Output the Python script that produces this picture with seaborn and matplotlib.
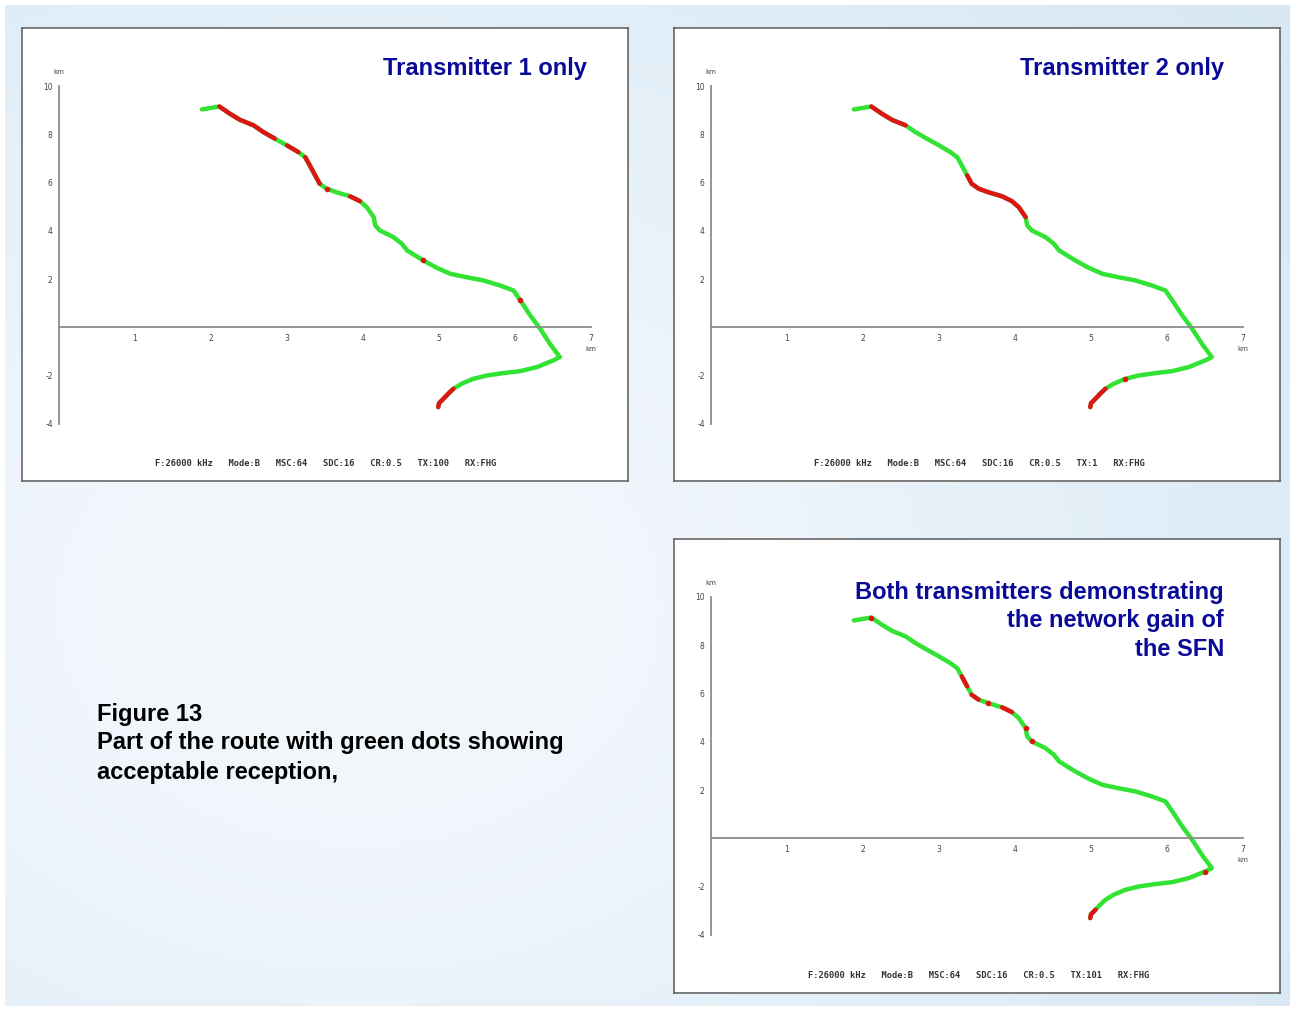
import numpy as np
import matplotlib.pyplot as plt
import seaborn as sns

W, H = 1290, 1009

# drive-test route, km east / north of the reference point
route_x = [1.88, 2.11, 2.25, 2.38, 2.56, 2.69, 2.84, 3.00, 3.15, 3.24,
           3.30, 3.37, 3.43, 3.52, 3.65, 3.83, 3.96, 4.05, 4.14, 4.16,
           4.22, 4.40, 4.51, 4.58, 4.79, 4.97, 5.15, 5.36, 5.58, 5.80,
           5.98, 6.07, 6.20, 6.33, 6.46, 6.59, 6.50, 6.29, 6.07, 5.85,
           5.63, 5.45, 5.30, 5.19, 5.12, 5.06, 5.00, 4.99]
route_y = [9.03, 9.15, 8.85, 8.60, 8.37, 8.09, 7.82, 7.54, 7.26, 7.05,
           6.71, 6.30, 5.95, 5.75, 5.60, 5.43, 5.23, 4.98, 4.57, 4.23,
           4.02, 3.74, 3.47, 3.19, 2.78, 2.47, 2.22, 2.08, 1.95, 1.74,
           1.53, 1.12, 0.50, -0.05, -0.68, -1.23, -1.37, -1.64, -1.81, -1.89,
           -1.99, -2.13, -2.33, -2.54, -2.75, -2.95, -3.14, -3.30]

# stretches of the route (point index ranges) with failed reception
tx1_bad = [(1, 6), (7, 8), (9, 12), (13, 13), (15, 16), (24, 24), (31, 31), (43, 47)]
tx2_bad = [(1, 4), (11, 18), (41, 41), (43, 47)]
both_bad = [(1, 1), (10, 11), (12, 13), (14, 14), (15, 16), (18, 18), (20, 20),
            (36, 36), (45, 47)]

x_ticks = [1, 2, 3, 4, 5, 6, 7]
y_ticks = [-4, -2, 2, 4, 6, 8, 10]

titles = [["Transmitter 1 only"],
          ["Transmitter 2 only"],
          ["Both transmitters demonstrating", "the network gain of", "the SFN"]]
footers = [["F:26000 kHz", "Mode:B", "MSC:64", "SDC:16", "CR:0.5", "TX:100", "RX:FHG"],
           ["F:26000 kHz", "Mode:B", "MSC:64", "SDC:16", "CR:0.5", "TX:1", "RX:FHG"],
           ["F:26000 kHz", "Mode:B", "MSC:64", "SDC:16", "CR:0.5", "TX:101", "RX:FHG"]]
caption = ["Figure 13", "Part of the route with green dots showing", "acceptable reception,"]

GREEN = "#33e333"
RED = "#dd1515"
NAVY = "#0a0a99"


def px_rect(left, top, right, bottom):
    return [left / W, 1 - bottom / H, (right - left) / W, (bottom - top) / H]


sns.set_theme(style="white")
plt.rcParams['font.family'] = ['DejaVu Sans']
plt.rcParams['axes.unicode_minus'] = False

fig = plt.figure(figsize=(W / 100, H / 100), dpi=100, facecolor="white")

# light blue page background with a pale glow on the left
bg = fig.add_axes(px_rect(5, 5, W, 1006))
gy, gx = np.mgrid[0:200, 0:256]
d2 = ((gx - 70) / 190.0) ** 2 + ((gy - 120) / 150.0) ** 2
w = np.exp(-d2)[..., None]
edge = np.array([0.815, 0.894, 0.953])
glow = np.array([0.955, 0.972, 0.988])
bg.imshow(edge * (1 - w) + glow * w, aspect="auto", interpolation="bilinear")
bg.axis("off")

frames = [(22, 28, 628, 481), (674, 28, 1280, 481), (674, 539, 1280, 993)]
plots = [(59, 86, 591, 424), (711, 86, 1243, 424), (711, 597, 1243, 935)]
title_right = [587, 1224, 1224]
title_top = [69, 69, 592]
bads = [tx1_bad, tx2_bad, both_bad]

for i in range(3):
    fl, ft, fr, fb = frames[i]
    fr_ax = fig.add_axes(px_rect(*frames[i]))
    fr_ax.set_facecolor("white")
    fr_ax.set_xticks([])
    fr_ax.set_yticks([])
    for sp in fr_ax.spines.values():
        sp.set_color("#5a5a5a")
        sp.set_linewidth(1.1)

    ax = fig.add_axes(px_rect(*plots[i]))
    ax.patch.set_alpha(0)

    sns.lineplot(x=route_x, y=route_y, sort=False, estimator=None,
                 color=GREEN, linewidth=3.2, ax=ax)
    for a, b in bads[i]:
        if a == b:
            sns.scatterplot(x=[route_x[a]], y=[route_y[a]], color=RED, s=16,
                            linewidth=0, ax=ax, zorder=4)
        else:
            sns.lineplot(x=route_x[a:b + 1], y=route_y[a:b + 1], sort=False,
                         estimator=None, color=RED, linewidth=3.2, ax=ax)
    for line in ax.lines:
        line.set_solid_capstyle("round")
        line.set_solid_joinstyle("round")

    ax.set_xlim(0, 7)
    ax.set_ylim(-4, 10)
    ax.spines["bottom"].set_position(("data", 0))
    ax.spines["top"].set_visible(False)
    ax.spines["right"].set_visible(False)
    for side in ["left", "bottom"]:
        ax.spines[side].set_color("#8c8c8c")
        ax.spines[side].set_linewidth(1.3)
    ax.set_xticks(x_ticks)
    ax.set_yticks(y_ticks)
    ax.tick_params(direction="inout", length=5, width=0.8, color="#666666",
                   labelsize=5.5, labelcolor="#444444", pad=2)
    ax.set_xlabel("")
    ax.set_ylabel("")
    ax.text(0, 10.6, "km", fontsize=5, color="#444444", ha="center", va="center", clip_on=False)
    ax.text(7, -0.88, "km", fontsize=5, color="#444444", ha="center", va="center", clip_on=False)

    # title block, right aligned in the frame
    for k, line in enumerate(titles[i]):
        ty = title_top[i] + k * 29
        fig.text(title_right[i] / W, 1 - ty / H, line, ha="right", va="center",
                 fontsize=17, fontweight="bold", color=NAVY, family="Liberation Sans")

    # receiver settings footer
    footer = "   ".join(footers[i])
    cx = (fl + fr) / 2 + (1 if i == 0 else 2)
    fig.text(cx / W, 1 - (fb - 18) / H, footer, ha="center", va="center",
             fontsize=6.3, fontweight="bold", color="#333333", family="DejaVu Sans Mono")

for k, line in enumerate(caption):
    fig.text(97 / W, 1 - (714 + k * 29) / H, line, ha="left", va="center",
             fontsize=17, fontweight="bold", color="black", family="Liberation Sans")

fig.savefig("out.png", dpi=100, facecolor=fig.get_facecolor())
